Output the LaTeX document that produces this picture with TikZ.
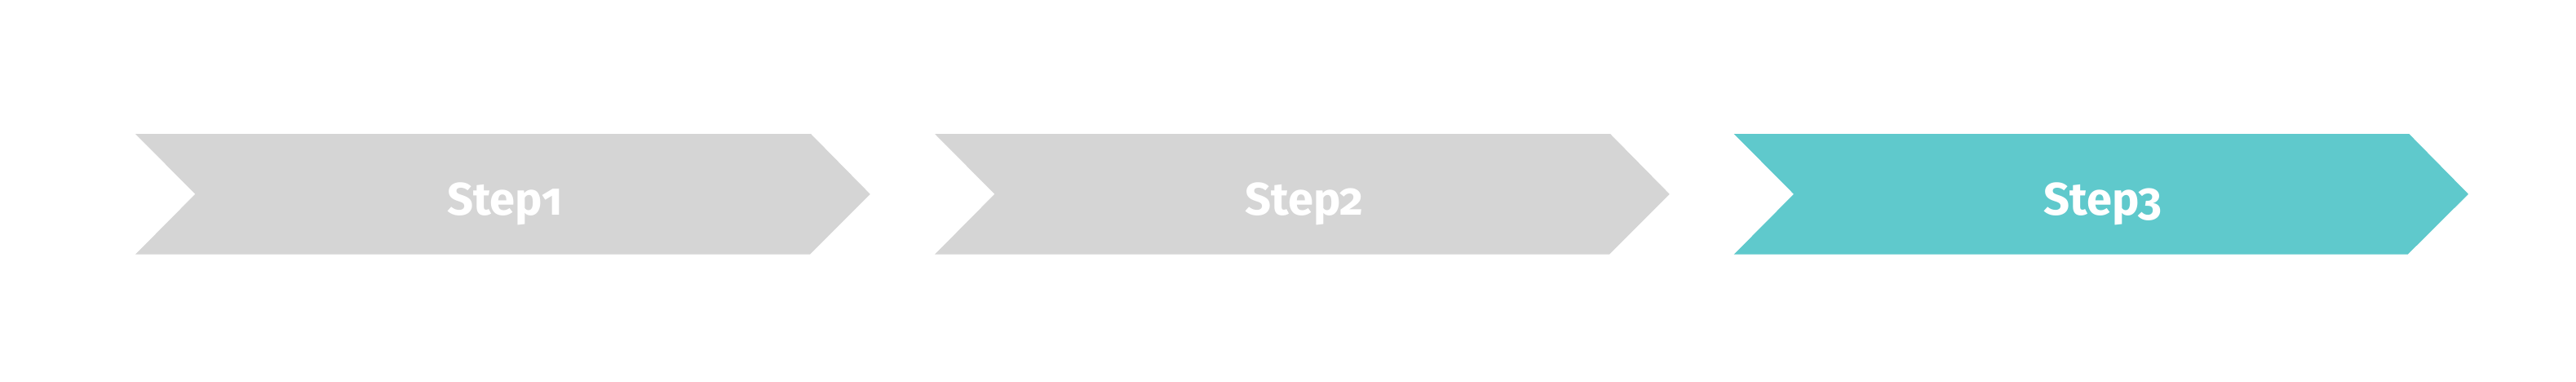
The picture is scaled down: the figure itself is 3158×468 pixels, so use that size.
\documentclass[tikz,border=0pt]{standalone}
\usepackage{fontspec}
\setmainfont{Fira Sans}[Numbers=OldStyle]
\definecolor{stepgray}{HTML}{D5D5D5}
\definecolor{stepteal}{HTML}{5FC9CC}
\begin{document}
\begin{tikzpicture}[x=1pt,y=-1pt,
  chevron/.style={draw=none},
  steplabel/.style={anchor=base,text=white,font=\fontsize{56}{60}\selectfont\bfseries,inner sep=0pt}]
\useasboundingbox (0,0) rectangle (3158,468);
\fill[white] (0,0) rectangle (3158,468);
% chevron 1
\fill[stepgray,chevron] (166,164) -- (994,164) -- (1066.7,237.8) -- (993,311.7) -- (166,311.7) -- (239.3,237.8) -- cycle;
% chevron 2
\fill[stepgray,chevron] (1146,164) -- (1974,164) -- (2046.7,237.8) -- (1973,311.7) -- (1146,311.7) -- (1219.3,237.8) -- cycle;
% chevron 3
\fill[stepteal,chevron] (2125.7,164) -- (2953.3,164) -- (3026,237.8) -- (2951.7,311.7) -- (2125.7,311.7) -- (2199,237.8) -- cycle;
\node[steplabel] (s1) at (619,263.3) {Step1};
\node[steplabel] (s2) at (1599,263.3) {Step2};
\node[steplabel] (s3) at (2578,263.3) {Step3};
\end{tikzpicture}
\end{document}
